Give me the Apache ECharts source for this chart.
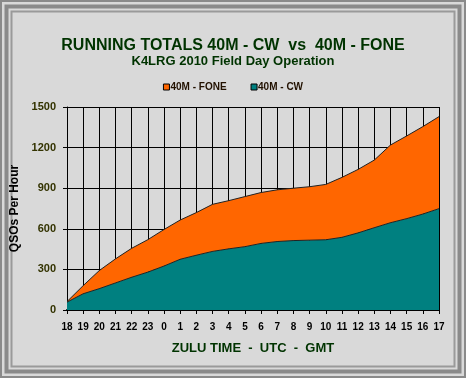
<!DOCTYPE html>
<html><head><meta charset="utf-8">
<script src="https://cdn.jsdelivr.net/npm/echarts@6/dist/echarts.min.js"></script>
<style>html,body{margin:0;padding:0;background:#d9d9d9;}#c{width:466px;height:378px;}</style>
</head><body><div id="c"></div>
<script>
const categories = ['18','19','20','21','22','23','0','1','2','3','4','5','6','7','8','9','10','11','12','13','14','15','16','17'];
const cw   = [58,120,158,200,242,280,325,375,405,433,452,468,492,506,513,516,519,537,570,608,645,675,709,749];
const fone = [4,60,134,178,214,240,270,290,315,348,356,370,376,382,387,395,409,443,469,500,574,611,646,680];
const yTicks = [0,300,600,900,1200,1500];

const FONT = '"Liberation Sans", Arial, sans-serif';
const chart = echarts.init(document.getElementById('c'), null, {renderer:'canvas'});
chart.setOption({
  backgroundColor:'#d9d9d9',
  animation:false,
  graphic:[
    {type:'rect', shape:{x:1,y:1,width:464,height:376}, style:{fill:'none', stroke:'#8a8a8a', lineWidth:2}},
    {type:'rect', shape:{x:6.5,y:6.5,width:453,height:365}, style:{fill:'none', stroke:'#8a8a8a', lineWidth:4}},
    {type:'rect', shape:{x:11.5,y:11.5,width:443,height:355}, style:{fill:'none', stroke:'#9a9a9a', lineWidth:2}},
    {type:'text', left:'center', top:38, style:{text:'RUNNING TOTALS 40M - CW  vs  40M - FONE', font:'bold 16px '+FONT, fill:'#003300'}},
    {type:'text', left:'center', top:55, style:{text:'K4LRG 2010 Field Day Operation', font:'bold 13px '+FONT, fill:'#003300'}}
  ],
  legend:{
    data:['40M - FONE','40M - CW'],
    top:77, left:'center',
    icon:'rect', itemWidth:6, itemHeight:6, itemGap:24,
    textStyle:{fontFamily:FONT, fontWeight:'bold', fontSize:10, color:'#221100', padding:[0,0,0,-4]},
    itemStyle:{borderColor:'#000', borderWidth:1}
  },
  grid:{left:67, right:27, top:107, bottom:68, show:false},
  xAxis:{
    type:'category', data:categories, boundaryGap:false,
    name:'ZULU TIME  -  UTC  -  GMT', nameLocation:'middle', nameGap:32,
    nameTextStyle:{fontFamily:FONT, fontWeight:'bold', fontSize:13, color:'#003300'},
    axisLine:{lineStyle:{color:'#000', width:2}},
    axisTick:{show:true, interval:0, length:4, lineStyle:{color:'#000'}},
    axisLabel:{interval:0, fontFamily:FONT, fontWeight:'bold', fontSize:10, color:'#000', margin:12},
    splitLine:{show:true, interval:0, lineStyle:{color:'#000', width:1}}
  },
  yAxis:{
    type:'value', min:0, max:1500, interval:300,
    name:'QSOs Per Hour', nameLocation:'middle', nameGap:44, nameRotate:90,
    nameTextStyle:{fontFamily:FONT, fontWeight:'bold', fontSize:12, color:'#000'},
    axisLine:{show:true, lineStyle:{color:'#000', width:1}},
    axisTick:{show:true, length:4, lineStyle:{color:'#000'}},
    axisLabel:{fontFamily:FONT, fontWeight:'bold', fontSize:11, color:'#333300', margin:11,
      formatter:v=> yTicks.includes(v) ? String(v) : ''},
    splitLine:{show:true, lineStyle:{color:'#000', width:1}}
  },
  series:[
    {name:'40M - CW', type:'line', stack:'t', data:cw, symbol:'none',
     lineStyle:{color:'#222', width:1}, areaStyle:{color:'#008080', opacity:1}, itemStyle:{color:'#008080'}, z:3},
    {name:'40M - FONE', type:'line', stack:'t', data:fone, symbol:'none',
     lineStyle:{color:'#222', width:1}, areaStyle:{color:'#ff6600', opacity:1}, itemStyle:{color:'#ff6600'}, z:2}
  ]
});
</script></body></html>
